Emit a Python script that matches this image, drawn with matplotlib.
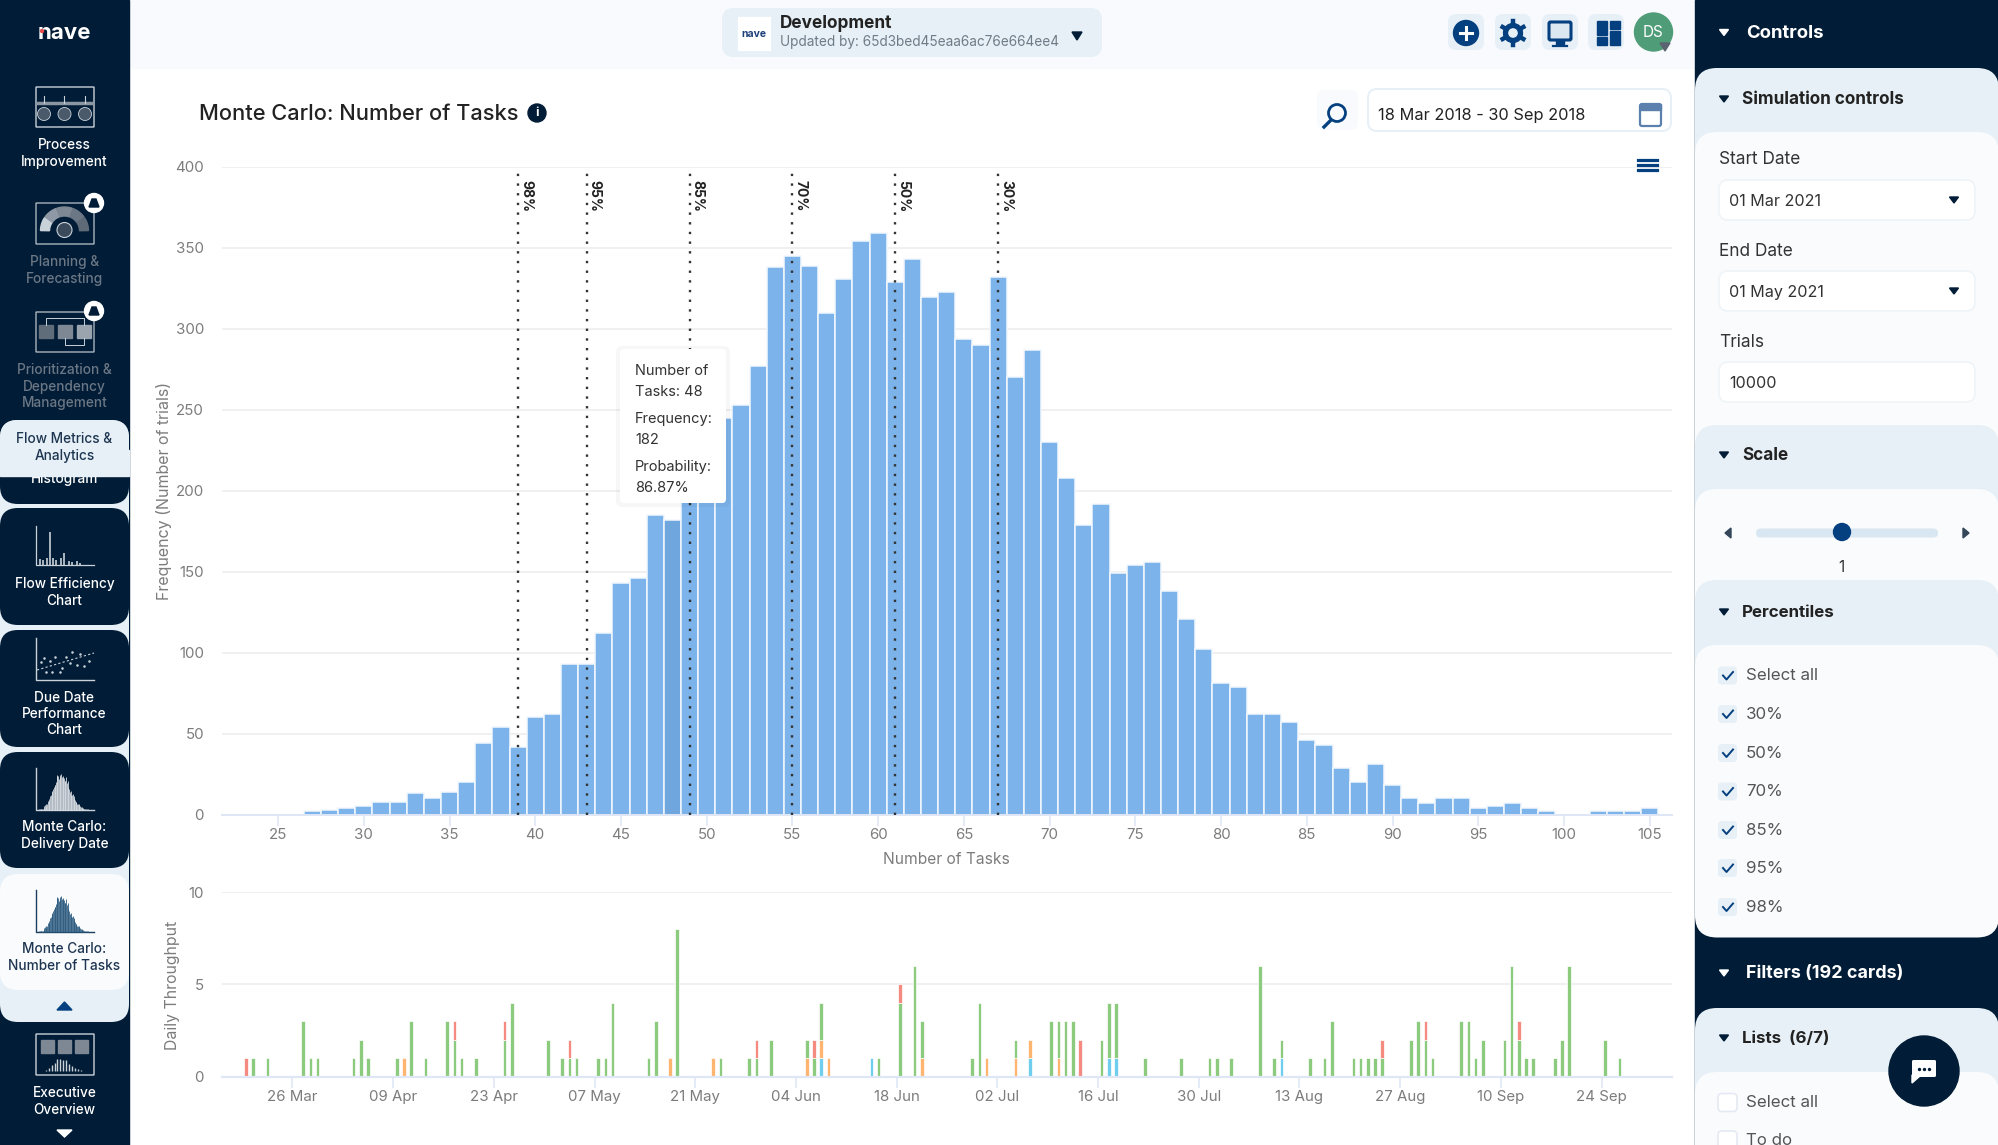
import numpy as np
import pandas as pd
import matplotlib
matplotlib.use("Agg")
import matplotlib.pyplot as plt
import matplotlib.dates as mdates
from matplotlib.patches import FancyBboxPatch, Polygon, Circle, Rectangle

plt.rcParams['font.family'] = ['Inter', 'DejaVu Sans']

# Histogram data
task_counts = list(range(27, 106))
frequency = [2, 3, 4, 5, 8, 8, 13, 10, 14, 20, 44, 54, 42, 60, 62, 93, 93, 112, 143, 146,
             185, 182, 205, 225, 245, 253, 277, 338, 345, 339, 310, 331, 354, 359, 329, 343,
             320, 323, 294, 290, 332, 270, 287, 230, 208, 179, 192, 149, 154, 156, 138, 121,
             102, 81, 79, 62, 62, 57, 46, 43, 29, 20, 31, 18, 10, 7, 10, 10, 4, 5, 7, 4, 2,
             0, 0, 2, 2, 2, 4]
highlight_task = 48
percentile_tasks = [39, 43, 49, 55, 61, 67]
percentile_labels = ['98%', '95%', '85%', '70%', '50%', '30%']
x_ticks = [25, 30, 35, 40, 45, 50, 55, 60, 65, 70, 75, 80, 85, 90, 95, 100, 105]
y_ticks = [0, 50, 100, 150, 200, 250, 300, 350, 400]

# Daily throughput, days counted from 26 Mar 2018
green_days = [-6, -4, 1, 2, 3, 8, 9, 10, 14, 16, 18, 21, 22, 23, 25, 29, 30, 35, 37, 38, 39, 42, 43, 44,
              49, 50, 53, 59, 63, 64, 66, 71, 72, 73, 81, 84, 86, 87, 94, 95, 100, 105, 106, 107, 108,
              112, 113, 114, 118, 123, 127, 128, 130, 134, 136, 137, 141, 143, 144, 147, 148, 149, 150,
              151, 155, 156, 157, 158, 162, 163, 164, 165, 168, 169, 170, 171, 172, 175, 176, 177, 182, 184]
green_counts = [1, 1, 3, 1, 1, 1, 2, 1, 1, 3, 1, 3, 2, 1, 1, 2, 4, 2, 1, 1, 1, 1, 1, 4,
                1, 3, 8, 1, 1, 1, 2, 1, 1, 2, 1, 4, 6, 2, 1, 4, 1, 3, 2, 3, 3,
                2, 3, 3, 1, 1, 1, 1, 1, 6, 1, 1, 1, 1, 3, 1, 1, 1, 1,
                1, 2, 3, 2, 1, 3, 3, 1, 2, 2, 6, 2, 1, 1, 1, 2, 6, 2, 1]
red_days = [-7, 22, 29, 38, 64, 72, 84, 109, 151, 157, 170]
red_counts = [1, 1, 1, 1, 1, 1, 1, 2, 1, 1, 1]
orange_days = [15, 52, 58, 71, 73, 74, 87, 96, 100, 102, 106]
orange_counts = [1, 1, 1, 1, 1, 1, 1, 1, 1, 1, 1]
blue_days = [73, 80, 102, 113, 114, 137]
blue_counts = [1, 1, 1, 1, 1, 1]
date_ticks = ['2018-03-26', '2018-04-09', '2018-04-23', '2018-05-07', '2018-05-21', '2018-06-04', '2018-06-18',
              '2018-07-02', '2018-07-16', '2018-07-30', '2018-08-13', '2018-08-27', '2018-09-10', '2018-09-24']

W, H = 1999, 1145
NAVY = '#011c36'
LIGHT = '#e6f0f6'
PALE = '#f9fbfd'
BLUE = '#04407f'
TICK_GREY = '#7c7c7c'
AXIS_BLUE = '#dfe6f5'

fig = plt.figure(figsize=(W / 100, H / 100), dpi=100, facecolor='white')


def px_axes(left, top, right, bottom, **kw):
    return fig.add_axes([left / W, 1 - bottom / H, (right - left) / W, (bottom - top) / H], **kw)


# Main histogram
ax = px_axes(222, 167, 1672, 814.5)
ax.bar(task_counts, frequency, width=1, color=['#6fa6dd' if t == highlight_task else '#7bb3ea' for t in task_counts],
       edgecolor='#f2f7fd', linewidth=1.1, zorder=2)
for t, lab in zip(percentile_tasks, percentile_labels):
    ax.axvline(t, color='#333333', linewidth=1.7, linestyle=(0, (1, 3.1)), zorder=3)
    ax.text(t + 0.47, 392, lab, rotation=270, ha='center', va='top', fontsize=10, fontweight='bold', color='#222222')
ax.set_xlim(21.73, 106.3)
ax.set_ylim(0, 400)
ax.set_xticks(x_ticks)
ax.set_yticks(y_ticks)
ax.grid(axis='y', color='#eeeeee', linewidth=1.2, zorder=0)
ax.tick_params(axis='y', length=0, labelsize=10.8, labelcolor=TICK_GREY, pad=13)
ax.tick_params(axis='x', length=8, width=1.2, color=AXIS_BLUE, labelsize=10.8, labelcolor=TICK_GREY, pad=2)
for side in ['top', 'right', 'left']:
    ax.spines[side].set_visible(False)
ax.spines['bottom'].set_color(AXIS_BLUE)
ax.spines['bottom'].set_linewidth(1.4)

# Daily throughput
ax2 = px_axes(222, 892, 1672, 1076.5)
start = mdates.date2num(pd.Timestamp('2018-03-26'))
all_days = np.arange(-7, 185)
bottom = np.zeros(len(all_days))
for d_list, c_list, col in [(blue_days, blue_counts, '#6fcdee'), (orange_days, orange_counts, '#ffb570'),
                            (green_days, green_counts, '#8ccb7d'), (red_days, red_counts, '#f58a80')]:
    vals = np.zeros(len(all_days))
    vals[np.array(d_list) + 7] = c_list
    mask = vals > 0
    ax2.bar(start + all_days[mask] + 0.5, vals[mask], width=0.5, bottom=bottom[mask], color=col,
            edgecolor='white', linewidth=0.5, zorder=2)
    bottom += vals
ax2.set_xlim(start - 9.8, start + 191.8)
ax2.set_ylim(0, 10)
ax2.set_yticks([0, 5, 10])
ax2.set_xticks(mdates.date2num(pd.to_datetime(date_ticks)))
ax2.xaxis.set_major_formatter(mdates.DateFormatter('%d %b'))
ax2.grid(axis='y', color='#eeeeee', linewidth=1.2, zorder=0)
ax2.tick_params(axis='y', length=0, labelsize=10.8, labelcolor=TICK_GREY, pad=13)
ax2.tick_params(axis='x', length=8, width=1.2, color=AXIS_BLUE, labelsize=10.8, labelcolor=TICK_GREY, pad=2)
for side in ['top', 'right', 'left']:
    ax2.spines[side].set_visible(False)
ax2.spines['bottom'].set_color(AXIS_BLUE)
ax2.spines['bottom'].set_linewidth(1.6)

# Everything around the charts is drawn in pixel coordinates
ui = fig.add_axes([0, 0, 1, 1], zorder=10)
ui.set_xlim(0, W)
ui.set_ylim(H, 0)
ui.axis('off')
ui.patch.set_alpha(0)


def rbox(x0, y0, x1, y1, r=10, color='white', edge='none', lw=0, z=1):
    p = FancyBboxPatch((x0, y0), x1 - x0, y1 - y0, boxstyle=f'round,pad=0,rounding_size={r}',
                       facecolor=color, edgecolor=edge, linewidth=lw, zorder=z)
    ui.add_patch(p)
    return p


def label(x, y, s, size=10.5, color='#333333', weight='normal', ha='left', z=5, **kw):
    # rotated labels are centred already, horizontal ones sit a little high
    dy = 0 if 'rotation' in kw else 1.3
    ui.text(x, y + dy, s, fontsize=size, color=color, fontweight=weight, ha=ha, va='center', zorder=z, **kw)


def caret(x, y, w=4.5, h=3, color=NAVY, z=5):
    ui.add_patch(Polygon([(x - w, y - h), (x + w, y - h), (x, y + h)], closed=True, color=color, zorder=z))


def side_caret(x, y, w=3, h=5, color='#34465a', left=True, z=5):
    s = -1 if left else 1
    ui.add_patch(Polygon([(x + s * w, y), (x - s * w, y - h), (x - s * w, y + h)], closed=True, color=color, zorder=z))


# Top bar
ui.add_patch(Rectangle((129, 0), 1566, 68, color='#f8fafd', zorder=0))
rbox(722, 8, 1102, 57, 12, LIGHT)
ui.add_patch(Rectangle((738, 17), 32, 33, color='white', zorder=2))
label(754, 32.5, 'nave', 7.5, '#1d3f7a', 'bold', ha='center')
label(780, 22, 'Development', 12.4, '#222222', 'bold')
label(780, 41, 'Updated by: 65d3bed45eaa6ac76e664ee4', 9.8, '#6f7b86')
caret(1077, 36, 5, 4)
for cx in [1466, 1513, 1560, 1606]:
    rbox(cx - 18, 14, cx + 18, 50, 8, LIGHT)
ui.add_patch(Circle((1466, 33), 12.5, color=BLUE, zorder=3))
ui.plot([1460, 1472], [33, 33], color='white', lw=2.2, zorder=4)
ui.plot([1466, 1466], [27, 39], color='white', lw=2.2, zorder=4)
ui.add_patch(Circle((1513, 33), 7.5, facecolor='none', edgecolor=BLUE, lw=3.8, zorder=3))
for ang in np.arange(0, 360, 60):
    a = np.radians(ang + 30)
    ui.plot([1513 + 8 * np.cos(a), 1513 + 12 * np.cos(a)], [33 + 8 * np.sin(a), 33 + 12 * np.sin(a)],
            color=BLUE, lw=3.2, zorder=3)
rbox(1549, 22, 1571, 40, 1.5, '#dbe8f2', BLUE, 2.2, z=3)
ui.add_patch(Rectangle((1556, 40), 8, 5, color=BLUE, zorder=3))
ui.plot([1553, 1567], [45.5, 45.5], color=BLUE, lw=1.6, zorder=3)
for bx, by, bw, bh in [(1597, 21, 10, 14), (1597, 37, 10, 8), (1610, 21, 10, 8), (1610, 31, 10, 14)]:
    ui.add_patch(Rectangle((bx, by), bw, bh, color=BLUE, zorder=3))
ui.add_patch(Circle((1653.5, 32), 19, color='#4f9d78', zorder=3))
label(1653.5, 31, 'DS', 11, 'white', ha='center')
caret(1665, 47, 5, 4, '#5a6470')

# Chart header
label(199, 113, 'Monte Carlo: Number of Tasks', 15.7, '#222222', 'medium')
ui.add_patch(Circle((537, 113), 9, color=NAVY, zorder=3))
label(537, 112, 'i', 9, 'white', 'bold', ha='center')
rbox(1317, 90, 1358, 130, 8, '#f8fafd')
ui.add_patch(Circle((1337, 113), 8.5, facecolor='none', edgecolor=BLUE, lw=2, zorder=3))
ui.plot([1331, 1324], [120, 127], color=BLUE, lw=2.4, zorder=3)
rbox(1368, 89, 1671, 131, 9, 'white', LIGHT, 1.4)
label(1378, 114.5, '18 Mar 2018 - 30 Sep 2018', 11.8, '#222222')
rbox(1640, 104, 1661, 126, 2, 'white', '#5b80ad', 1.6, z=3)
ui.add_patch(Rectangle((1640, 104), 21, 6, color='#5b80ad', zorder=4))
for ly in [160, 165, 170]:
    ui.plot([1638, 1657], [ly, ly], color=BLUE, lw=2.3, zorder=3)

# Axis titles
label(164, 491, 'Frequency (Number of trials)', 11.5, TICK_GREY, ha='center', rotation=90)
label(946, 858, 'Number of Tasks', 11.2, TICK_GREY, ha='center')
label(173, 985, 'Daily Throughput', 11.4, TICK_GREY, ha='center', rotation=90)

# Tooltip
rbox(616, 346, 730, 507, 6, '#00000008', z=6)
rbox(620, 349, 726, 503, 4, 'white', z=7)
for ty, s in zip([370, 391, 418, 439, 466, 487],
                 ['Number of', 'Tasks: 48', 'Frequency:', '182', 'Probability:', '86.87%']):
    label(635, ty, s, 10.5, '#333333', z=8)

# Left sidebar
ui.add_patch(Rectangle((0, 0), 129, H, color=NAVY, zorder=0))
rbox(0, 420, 129, 1022, 18, LIGHT, z=1)
label(64, 32, 'nave', 16, 'white', 'bold', ha='center')
ui.add_patch(Circle((42, 31), 1.5, color='#e8504f', zorder=6))
SOFT = '#c9d1d9'
MUTED = '#6b7785'


def icon_box(y0, y1, color=SOFT, z=3):
    rbox(36, y0, 94, y1, 0.5, 'none', color, 1, z=z)


def two_lines(y, lines, color='white', size=9.8):
    for i, s in enumerate(lines):
        label(64.5, y + i * 16.3, s, size, color, 'medium', ha='center')


# process improvement
icon_box(87, 127)
ui.plot([38, 91], [103, 103], color='#8b96a3', lw=2.5, zorder=3)
for cx in [44, 64.5, 85]:
    ui.add_patch(Circle((cx, 114), 6.5, facecolor='#4a5a6a', edgecolor=SOFT, lw=0.6, zorder=3))
    ui.plot([cx, cx], [96, 103], color=SOFT, lw=0.8, zorder=3)
two_lines(144, ['Process', 'Improvement'])

# planning
icon_box(203, 244, '#aab3bd')
for a0, a1, col in [(180, 215, '#c9d1d9'), (215, 250, '#8e99a5'), (250, 290, '#7d8894'), (290, 325, '#6b7785'),
                    (325, 360, '#5e6a77')]:
    t = np.radians(np.linspace(a0 + 1, a1 - 1, 12))
    xs = np.r_[64.5 + 24 * np.cos(t), 64.5 + 15 * np.cos(t[::-1])]
    ys = np.r_[231 + 24 * np.sin(t), 231 + 15 * np.sin(t[::-1])]
    ui.add_patch(Polygon(np.c_[xs, ys], closed=True, color=col, zorder=3))
ui.add_patch(Circle((64.5, 230), 7.5, facecolor='#3b4a5a', edgecolor=SOFT, lw=0.8, zorder=4))
ui.add_patch(Circle((94, 203), 9.5, color='white', zorder=4))
ui.add_patch(Polygon([(89, 207), (99, 207), (96, 199), (92, 199)], closed=True, color=NAVY, zorder=5))
two_lines(261, ['Planning &', 'Forecasting'], MUTED)

# prioritization
icon_box(312, 352, '#aab3bd')
for bx, shade in [(39, '#5f6c79'), (58, '#7d8894'), (77, '#9aa4ae')]:
    ui.add_patch(Rectangle((bx, 325), 14, 13, color=shade, zorder=3))
ui.plot([46, 46, 84, 84], [325, 318, 318, 325], color=SOFT, lw=0.7, zorder=3)
ui.plot([65, 65, 84, 84], [338, 345, 345, 338], color=SOFT, lw=0.7, zorder=3)
ui.add_patch(Circle((94, 311), 9.5, color='white', zorder=4))
ui.add_patch(Polygon([(89, 315), (99, 315), (96, 307), (92, 307)], closed=True, color=NAVY, zorder=5))
two_lines(369, ['Prioritization &', 'Dependency', 'Management'], MUTED)

# flow metrics tab and cards below it
rbox(0, 440, 129, 504, 18, NAVY, z=1.5)
label(64.5, 478, 'Histogram', 9.8, 'white', 'medium', ha='center', z=1.6)
rbox(0, 420, 129, 476, 18, LIGHT, z=2)
ui.add_patch(Rectangle((0, 450), 129, 26, color=LIGHT, zorder=2))
two_lines(438, ['Flow Metrics &', 'Analytics'], '#1d3550')

rbox(0, 508, 129, 625, 18, NAVY, z=2)
ui.plot([36, 36, 94], [526, 565, 565], color=SOFT, lw=0.9, zorder=3)
ui.vlines([40, 43, 47, 50, 53, 56, 61, 64, 69, 72, 77, 80], 565,
          [559, 560, 558, 532, 558, 560, 558, 553, 561, 562, 561, 563], color=SOFT, lw=1.2, zorder=3)
two_lines(583, ['Flow Efficiency', 'Chart'])

rbox(0, 630, 129, 747, 18, NAVY, z=2)
ui.plot([36, 36, 94], [638, 680, 680], color=SOFT, lw=1, zorder=3)
ui.plot([37, 94], [670, 653], color=SOFT, lw=0.8, ls=(0, (2, 2)), zorder=3)
ui.scatter([41, 46, 50, 52, 55, 60, 66, 70, 72, 77, 80, 84, 89, 44, 62],
           [662, 672, 661, 672, 657, 672, 657, 663, 652, 665, 654, 666, 661, 658, 668], s=0.7, color=SOFT, zorder=3)
two_lines(696.5, ['Due Date', 'Performance', 'Chart'])

# the little Monte Carlo icons take their shape from the histogram above
mini_x = 37 + (np.array(task_counts) - 27) * 57 / 78
mini_h = np.array(frequency) / 359 * 36

rbox(0, 752, 129, 868, 18, NAVY, z=2)
ui.plot([36, 36, 94], [768, 810, 810], color=SOFT, lw=1, zorder=3)
ui.vlines(mini_x, 810, 810 - mini_h, color='#d7dce2', lw=0.6, zorder=3)
two_lines(826, ['Monte Carlo:', 'Delivery Date'])

rbox(0, 874, 129, 990, 18, PALE, z=2)
ui.plot([36, 36, 94], [890, 932, 932], color='#1d3f5f', lw=1, zorder=3)
ui.vlines(mini_x, 932, 932 - mini_h, color='#2c5a7e', lw=0.6, zorder=3)
two_lines(948, ['Monte Carlo:', 'Number of Tasks'], '#1d3550')
ui.add_patch(Polygon([(57, 1010), (72, 1010), (64.5, 1002)], closed=True, color=BLUE, zorder=5))

icon_box(1034, 1075)
for bx in [41, 58, 75]:
    ui.add_patch(Rectangle((bx, 1040), 13, 13, color='#7d8894', zorder=3))
ui.vlines(mini_x[::4], 1071, 1071 - mini_h[::4] / 3, color=SOFT, lw=1, zorder=3)
two_lines(1092, ['Executive', 'Overview'])
ui.add_patch(Polygon([(57, 1130), (72, 1130), (64.5, 1137)], closed=True, color='white', zorder=5))

# Right panel
ui.add_patch(Rectangle((1695, 0), 304, H, color=NAVY, zorder=0))
caret(1724, 32.5, color='white')
label(1746, 32, 'Controls', 13.3, 'white', 'bold')

rbox(1695, 68, 1999, 600, 22, LIGHT, z=1)
caret(1724, 99)
label(1742, 98, 'Simulation controls', 12.3, '#222222', 'bold')
rbox(1695, 132, 1999, 600, 22, PALE, z=1.1)
for ly, s in zip([158, 250, 341], ['Start Date', 'End Date', 'Trials']):
    label(1719, ly, s, 12.4, '#333333')
for by, s, has_caret in [(180, '01 Mar 2021', True), (271, '01 May 2021', True), (362, '10000', False)]:
    rbox(1719, by, 1975, by + 40, 9, 'white', '#eef4f8', 1.2, z=2)
    label(1729, by + 20, s, 11.6, '#333333')
    if has_caret:
        caret(1954, by + 20)

rbox(1695, 425, 1999, 640, 22, LIGHT, z=1.2)
caret(1724, 455)
label(1742, 454, 'Scale', 12.3, '#222222', 'bold')
rbox(1695, 489, 1999, 640, 22, PALE, z=1.3)
rbox(1756, 528.5, 1938, 537.5, 4.5, '#d8e7f1', z=2)
ui.add_patch(Circle((1842, 532), 8.5, color=BLUE, zorder=3))
side_caret(1728, 533, left=True)
side_caret(1966, 533, left=False)
label(1841, 566.5, '1', 11, '#333333', ha='center')

rbox(1695, 580, 1999, 800, 22, LIGHT, z=1.4)
caret(1724, 612)
label(1742, 611, 'Percentiles', 12.2, '#222222', 'bold')
rbox(1695, 645, 1999, 937.5, 22, PALE, z=1.5)
for cy, s in zip([675.5, 714, 753, 791.5, 830, 868, 907],
                 ['Select all', '30%', '50%', '70%', '85%', '95%', '98%']):
    rbox(1718, cy - 9, 1737, cy + 9, 4, LIGHT, z=2)
    ui.plot([1723, 1726.5, 1733], [cy, cy + 4, cy - 3.5], color=BLUE, lw=1.4, zorder=3)
    label(1746, cy - 1, s, 12.2, '#555555')

caret(1724, 973, color='white')
label(1746, 972, 'Filters (192 cards)', 12.9, 'white', 'bold')

rbox(1695, 1008, 1999, 1200, 22, LIGHT, z=1.6)
caret(1724, 1038)
label(1742, 1037, 'Lists  (6/7)', 12.2, '#222222', 'bold')
rbox(1695, 1072, 1999, 1200, 22, PALE, z=1.7)
for cy, s in [(1102.5, 'Select all'), (1140, 'To do')]:
    rbox(1718, cy - 9, 1737, cy + 9, 4, 'white', '#e4e9f2', 1.2, z=2)
    label(1746, cy - 1, s, 12.2, '#555555', clip_on=True)

# Chat button
ui.add_patch(Circle((1924, 1071), 35, color=NAVY, zorder=6))
rbox(1912, 1060, 1936, 1077, 1.5, 'white', z=7)
ui.add_patch(Polygon([(1912, 1075), (1912, 1083), (1920, 1076)], closed=True, color='white', zorder=7))
ui.scatter([1919, 1924, 1929], [1068.5] * 3, s=2, color=NAVY, zorder=8)

fig.savefig('out.png', dpi=100, facecolor='white')
